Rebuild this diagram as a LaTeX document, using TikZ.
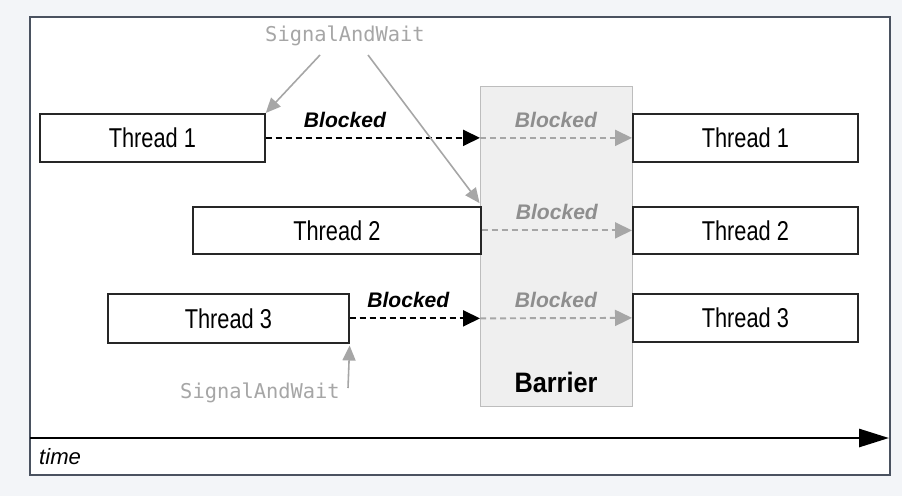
\documentclass[tikz,border=0pt]{standalone}
\usepackage{fontspec}
\setmainfont{Liberation Sans}
\newfontfamily\threadfont[FakeStretch=0.8]{Liberation Sans}
\newfontfamily\barfont[FakeStretch=0.9]{Liberation Sans}
\newfontfamily\codefont{DejaVu Sans Mono}
\usetikzlibrary{arrows.meta,positioning}

\definecolor{pagebg}{HTML}{F3F5F8}
\definecolor{framec}{HTML}{4A5260}
\definecolor{waitgray}{HTML}{A6A6A6}
\definecolor{blockgray}{HTML}{8E8E8E}
\definecolor{barfill}{HTML}{EFEFEF}
\definecolor{barline}{HTML}{BDBDBD}

\tikzset{
  threadbox/.style={draw=black!85, line width=1pt, fill=white, minimum height=0.96cm,
    inner sep=0pt, anchor=north west, font=\threadfont\fontsize{15.5}{18}\selectfont},
  blockedline/.style={dashed, dash pattern=on 0.12cm off 0.08cm, line width=1.1pt,
    -{Triangle[length=0.34cm,width=0.32cm]}},
  blockedtext/.style={font=\bfseries\itshape\fontsize{12}{14}\selectfont, above=2pt},
  waitline/.style={draw=waitgray, line width=0.9pt, -{Triangle[length=0.3cm,width=0.26cm]}},
  waittext/.style={text=waitgray, font=\codefont\fontsize{11.6}{14}\selectfont}
}

\begin{document}
\begin{tikzpicture}[x=0.02cm,y=-0.02cm]
  % page and frame
  \fill[pagebg] (0,0) rectangle (902,496);
  \draw[framec, line width=0.8pt, fill=white] (30,17) rectangle (890,475);
  \useasboundingbox (0,0) rectangle (902,496);

  % barrier
  \node[draw=barline, fill=barfill, line width=0.8pt, minimum width=3.04cm, minimum height=6.4cm,
    anchor=north west, inner sep=0pt] (bar) at (480,86) {};
  \node[font=\barfont\bfseries\fontsize{16}{19}\selectfont] (barlabel) at (556,382) {Barrier};

  % threads before the barrier
  \node[threadbox, minimum width=4.5cm] (t1a) at (39,113) {Thread 1};
  \node[threadbox, minimum width=5.76cm, minimum height=0.94cm] (t2a) at (192,206) {Thread 2};
  \node[threadbox, minimum width=4.82cm, minimum height=0.98cm] (t3a) at (107,293) {Thread 3};

  % threads after the barrier
  \node[threadbox, minimum width=4.5cm] (t1b) at (632,113) {Thread 1};
  \node[threadbox, minimum width=4.5cm, minimum height=0.94cm] (t2b) at (632,206) {Thread 2};
  \node[threadbox, minimum width=4.5cm] (t3b) at (632,293) {Thread 3};

  % blocked
  \path
    (t1a.east) edge[blockedline] node[blockedtext, pos=0.37] {Blocked} (bar.west |- t1a.east)
    (t3a.east) edge[blockedline] node[blockedtext, pos=0.45] {Blocked} (bar.west |- t3a.east);
  \path[blockgray]
    (bar.west |- t1a.east) edge[blockedline, draw=waitgray] node[blockedtext] {Blocked} (t1b.west)
    (t2a.east) edge[blockedline, draw=waitgray] node[blockedtext] {Blocked} (t2b.west)
    (bar.west |- t3a.east) edge[blockedline, draw=waitgray] node[blockedtext] {Blocked} (t3b.west);

  % SignalAndWait calls
  \node[waittext] (swtop) at (345,36) {SignalAndWait};
  \node[waittext] (swbot) at (260,393) {SignalAndWait};
  \coordinate (swtopl) at (320,55);
  \coordinate (swtopr) at (368,55);
  \coordinate (swbotr) at (348,388);
  \draw[waitline] (swtopl) -- (t1a.north east);
  \draw[waitline, shorten >=2pt] (swtopr) -- (t2a.north east);
  \draw[waitline, shorten >=1pt] (swbotr) -- (t3a.south east);

  % time axis
  \coordinate (tstart) at (30,438);
  \coordinate (tend) at (889,438);
  \draw[line width=1.6pt, -{Triangle[length=0.6cm,width=0.36cm]}] (tstart) -- (tend);
  \node[font=\itshape\fontsize{12.6}{15}\selectfont, anchor=west] (timelabel) at (33,457) {time};
\end{tikzpicture}
\end{document}
